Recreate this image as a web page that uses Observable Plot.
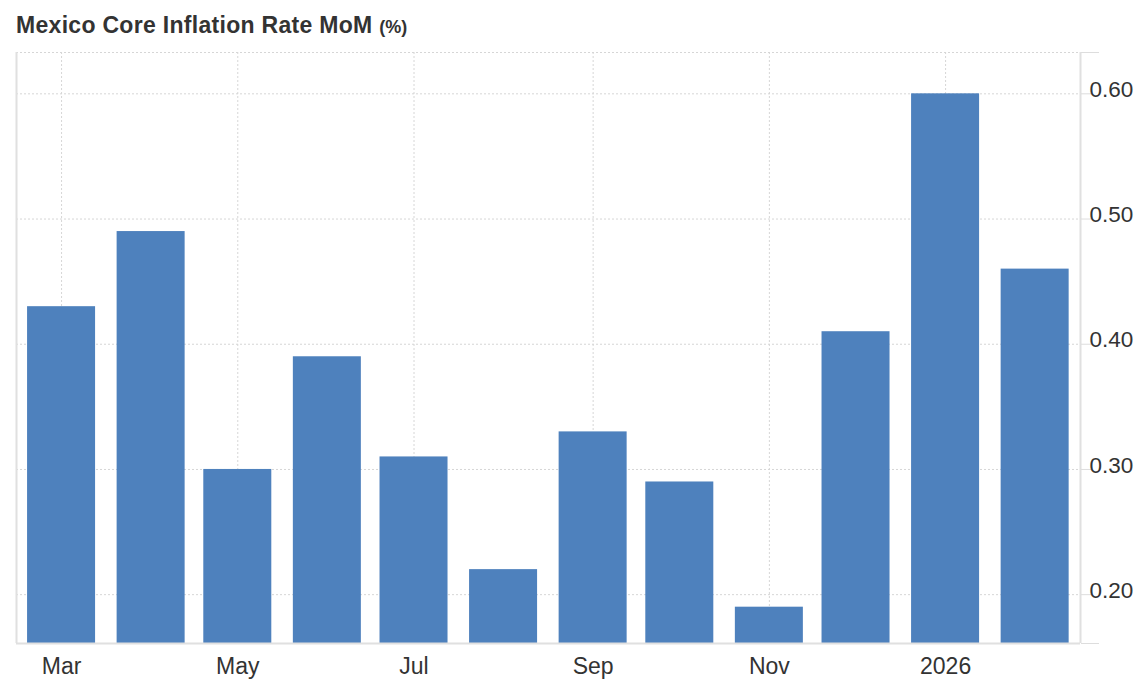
<!DOCTYPE html>
<html>
<head>
<meta charset="utf-8">
<script src="https://cdn.jsdelivr.net/npm/d3@7"></script>
<script src="https://cdn.jsdelivr.net/npm/@observablehq/plot@0.6"></script>
<style>
  html, body { margin: 0; padding: 0; background: #fff; }
  #title {
    height: 40px; box-sizing: border-box; padding: 12px 0 0 16px;
    font-family: "Liberation Sans", Arial, sans-serif; font-weight: bold;
    font-size: 23px; letter-spacing: 0.3px; color: #333; line-height: normal; white-space: nowrap;
  }
  #title small { font-size: 18px; font-weight: bold; letter-spacing: 0; }
  svg { display: block; }
</style>
</head>
<body>
<div id="title">Mexico Core Inflation Rate MoM <small>(%)</small></div>
<div id="chart"></div>
<script>
const months = ["2025-03","2025-04","2025-05","2025-06","2025-07","2025-08","2025-09","2025-10","2025-11","2025-12","2026-01","2026-02"];
const values = [0.43, 0.49, 0.30, 0.39, 0.31, 0.22, 0.33, 0.29, 0.19, 0.41, 0.60, 0.46];
const xTickDates = ["2025-03","2025-05","2025-07","2025-09","2025-11","2026-01"];
const xTickLabels = ["Mar","May","Jul","Sep","Nov","2026"];
const yTicks = [0.20, 0.30, 0.40, 0.50, 0.60];

const DAY = 864e5;
const parse = s => new Date(s + "-01T00:00:00Z");
const data = months.map((m, i) => ({date: parse(m), value: values[i]}));
const tickDates = xTickDates.map(parse);
const labelOf = new Map(tickDates.map((d, i) => [+d, xTickLabels[i]]));

const xDomain = [new Date(+parse("2025-03") - 15.6 * DAY), new Date(+parse("2026-01") + 46.7 * DAY)];
const yDomain = [0.161, 0.633];
const half = 11.77 * DAY;

const chart = Plot.plot({
  width: 1141,
  height: 645,
  marginTop: 12,
  marginBottom: 42,
  marginLeft: 16,
  marginRight: 61,
  style: {fontFamily: "'Liberation Sans', Arial, sans-serif", color: "#333", background: "#fff"},
  x: {type: "utc", domain: xDomain},
  y: {domain: yDomain},
  marks: [
    Plot.gridY({ticks: yTicks, stroke: "#d6d6d6", strokeOpacity: 1, strokeDasharray: "2,2", strokeWidth: 1}),
    Plot.gridX({ticks: tickDates, stroke: "#d6d6d6", strokeOpacity: 1, strokeDasharray: "2,2", strokeWidth: 1}),
    Plot.ruleY([yDomain[1]], {stroke: "#d6d6d6", strokeDasharray: "2,2"}),
    Plot.rect(data, {
      x1: d => new Date(+d.date - half),
      x2: d => new Date(+d.date + half),
      y1: () => yDomain[0],
      y2: "value",
      fill: "#4e81bd"
    }),
    Plot.ruleX([xDomain[0]], {stroke: "#e0e0e0", strokeWidth: 2}),
    Plot.ruleX([xDomain[1]], {stroke: "#e0e0e0", strokeWidth: 2}),
    Plot.ruleY([yDomain[0]], {stroke: "#e0e0e0", strokeWidth: 2}),
    Plot.axisY({anchor: "right", ticks: yTicks, tickSize: 10, text: null, stroke: "#ddd", label: null}),
    Plot.axisY({anchor: "right", ticks: yDomain, tickSize: 18, text: null, stroke: "#ddd", label: null}),
    Plot.axisY({anchor: "right", ticks: yTicks, tickSize: 0, tickPadding: 9, dy: -4, tickFormat: d3.format(".2f"), fontSize: 22.5, fill: "#333", label: null}),
    Plot.axisX({ticks: tickDates, tickSize: 0, tickPadding: 14, tickFormat: d => labelOf.get(+d), fontSize: 23, fill: "#333", label: null})
  ]
});
document.getElementById("chart").appendChild(chart);
</script>
</body>
</html>
